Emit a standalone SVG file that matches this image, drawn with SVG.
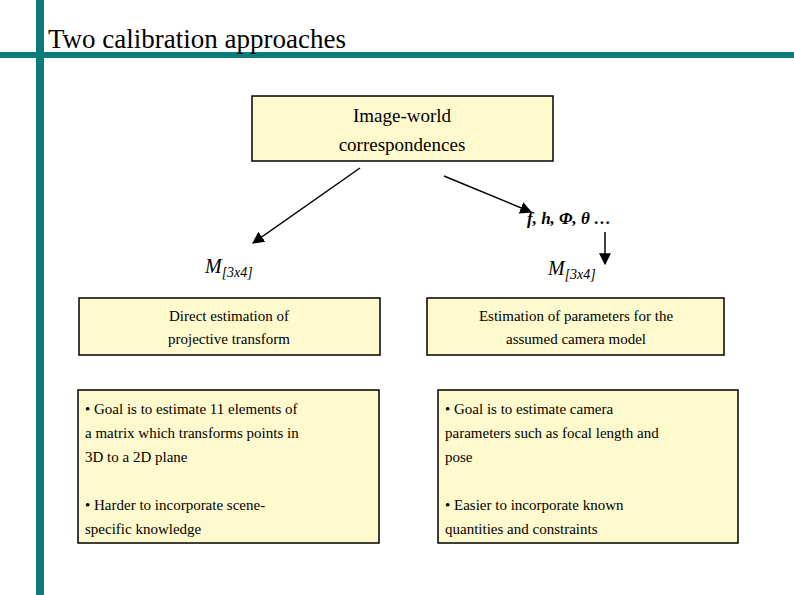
<svg xmlns="http://www.w3.org/2000/svg" width="794" height="595" viewBox="0 0 794 595" font-family="'Liberation Serif', 'DejaVu Serif', serif">
<defs>
<style>
.b{fill:#FFFACD;stroke:#000;stroke-width:1.5}
text{font-family:'Liberation Serif','DejaVu Serif',serif;fill:#000}
.t{font-size:15px}
.c{text-anchor:middle}
.ln{stroke:#000;stroke-width:1.5;fill:none;marker-end:url(#a)}
</style>
<marker id="a" viewBox="0 0 10 10" refX="9" refY="5" markerWidth="8" markerHeight="8" orient="auto"><path d="M0,0L10,5L0,10z" fill="#000"/></marker>
</defs>
<rect width="794" height="595" fill="#fff"/>
<rect x="36" y="0" width="8" height="595" fill="#0B7B7B"/>
<rect x="0" y="52" width="794" height="6" fill="#0B7B7B"/>
<text x="48" y="48" font-size="27">Two calibration approaches</text>
<g id="top"><rect class="b" x="252" y="96" width="301" height="65"/>
<text class="c" x="402" y="122" font-size="19">Image-world</text>
<text class="c" x="402" y="151" font-size="19">correspondences</text></g>
<g id="connectors">
<line class="ln" x1="360" y1="168" x2="253" y2="243"/>
<line class="ln" x1="444" y1="176" x2="531" y2="212"/>
<line class="ln" x1="605" y1="232" x2="605" y2="264"/>
</g>
<text x="527" y="224" font-size="17" font-weight="bold" font-style="italic">f, h, Φ, θ …</text>
<text x="205" y="273" font-size="20" font-style="italic">M<tspan font-size="14" dy="4">[3x4]</tspan></text>
<text x="548" y="275" font-size="20" font-style="italic">M<tspan font-size="14" dy="4">[3x4]</tspan></text>
<g id="l1"><rect class="b" x="79" y="298" width="301" height="57"/>
<text class="t c" x="229" y="321">Direct estimation of</text>
<text class="t c" x="229" y="344">projective transform</text></g>
<g id="r1"><rect class="b" x="427" y="298" width="297" height="57"/>
<text class="t c" x="576" y="321">Estimation of parameters for the</text>
<text class="t c" x="576" y="344">assumed camera model</text></g>
<g id="l2"><rect class="b" x="78" y="390" width="301" height="153"/>
<text class="t" x="85" y="414">• Goal is to estimate 11 elements of</text>
<text class="t" x="85" y="438">a matrix which transforms points in</text>
<text class="t" x="85" y="462">3D to a 2D plane</text>
<text class="t" x="85" y="510">• Harder to incorporate scene-</text>
<text class="t" x="85" y="534">specific knowledge</text></g>
<g id="r2"><rect class="b" x="438" y="390" width="300" height="153"/>
<text class="t" x="445" y="414">• Goal is to estimate camera</text>
<text class="t" x="445" y="438">parameters such as focal length and</text>
<text class="t" x="445" y="462">pose</text>
<text class="t" x="445" y="510">• Easier to incorporate known</text>
<text class="t" x="445" y="534">quantities and constraints</text></g>
</svg>
